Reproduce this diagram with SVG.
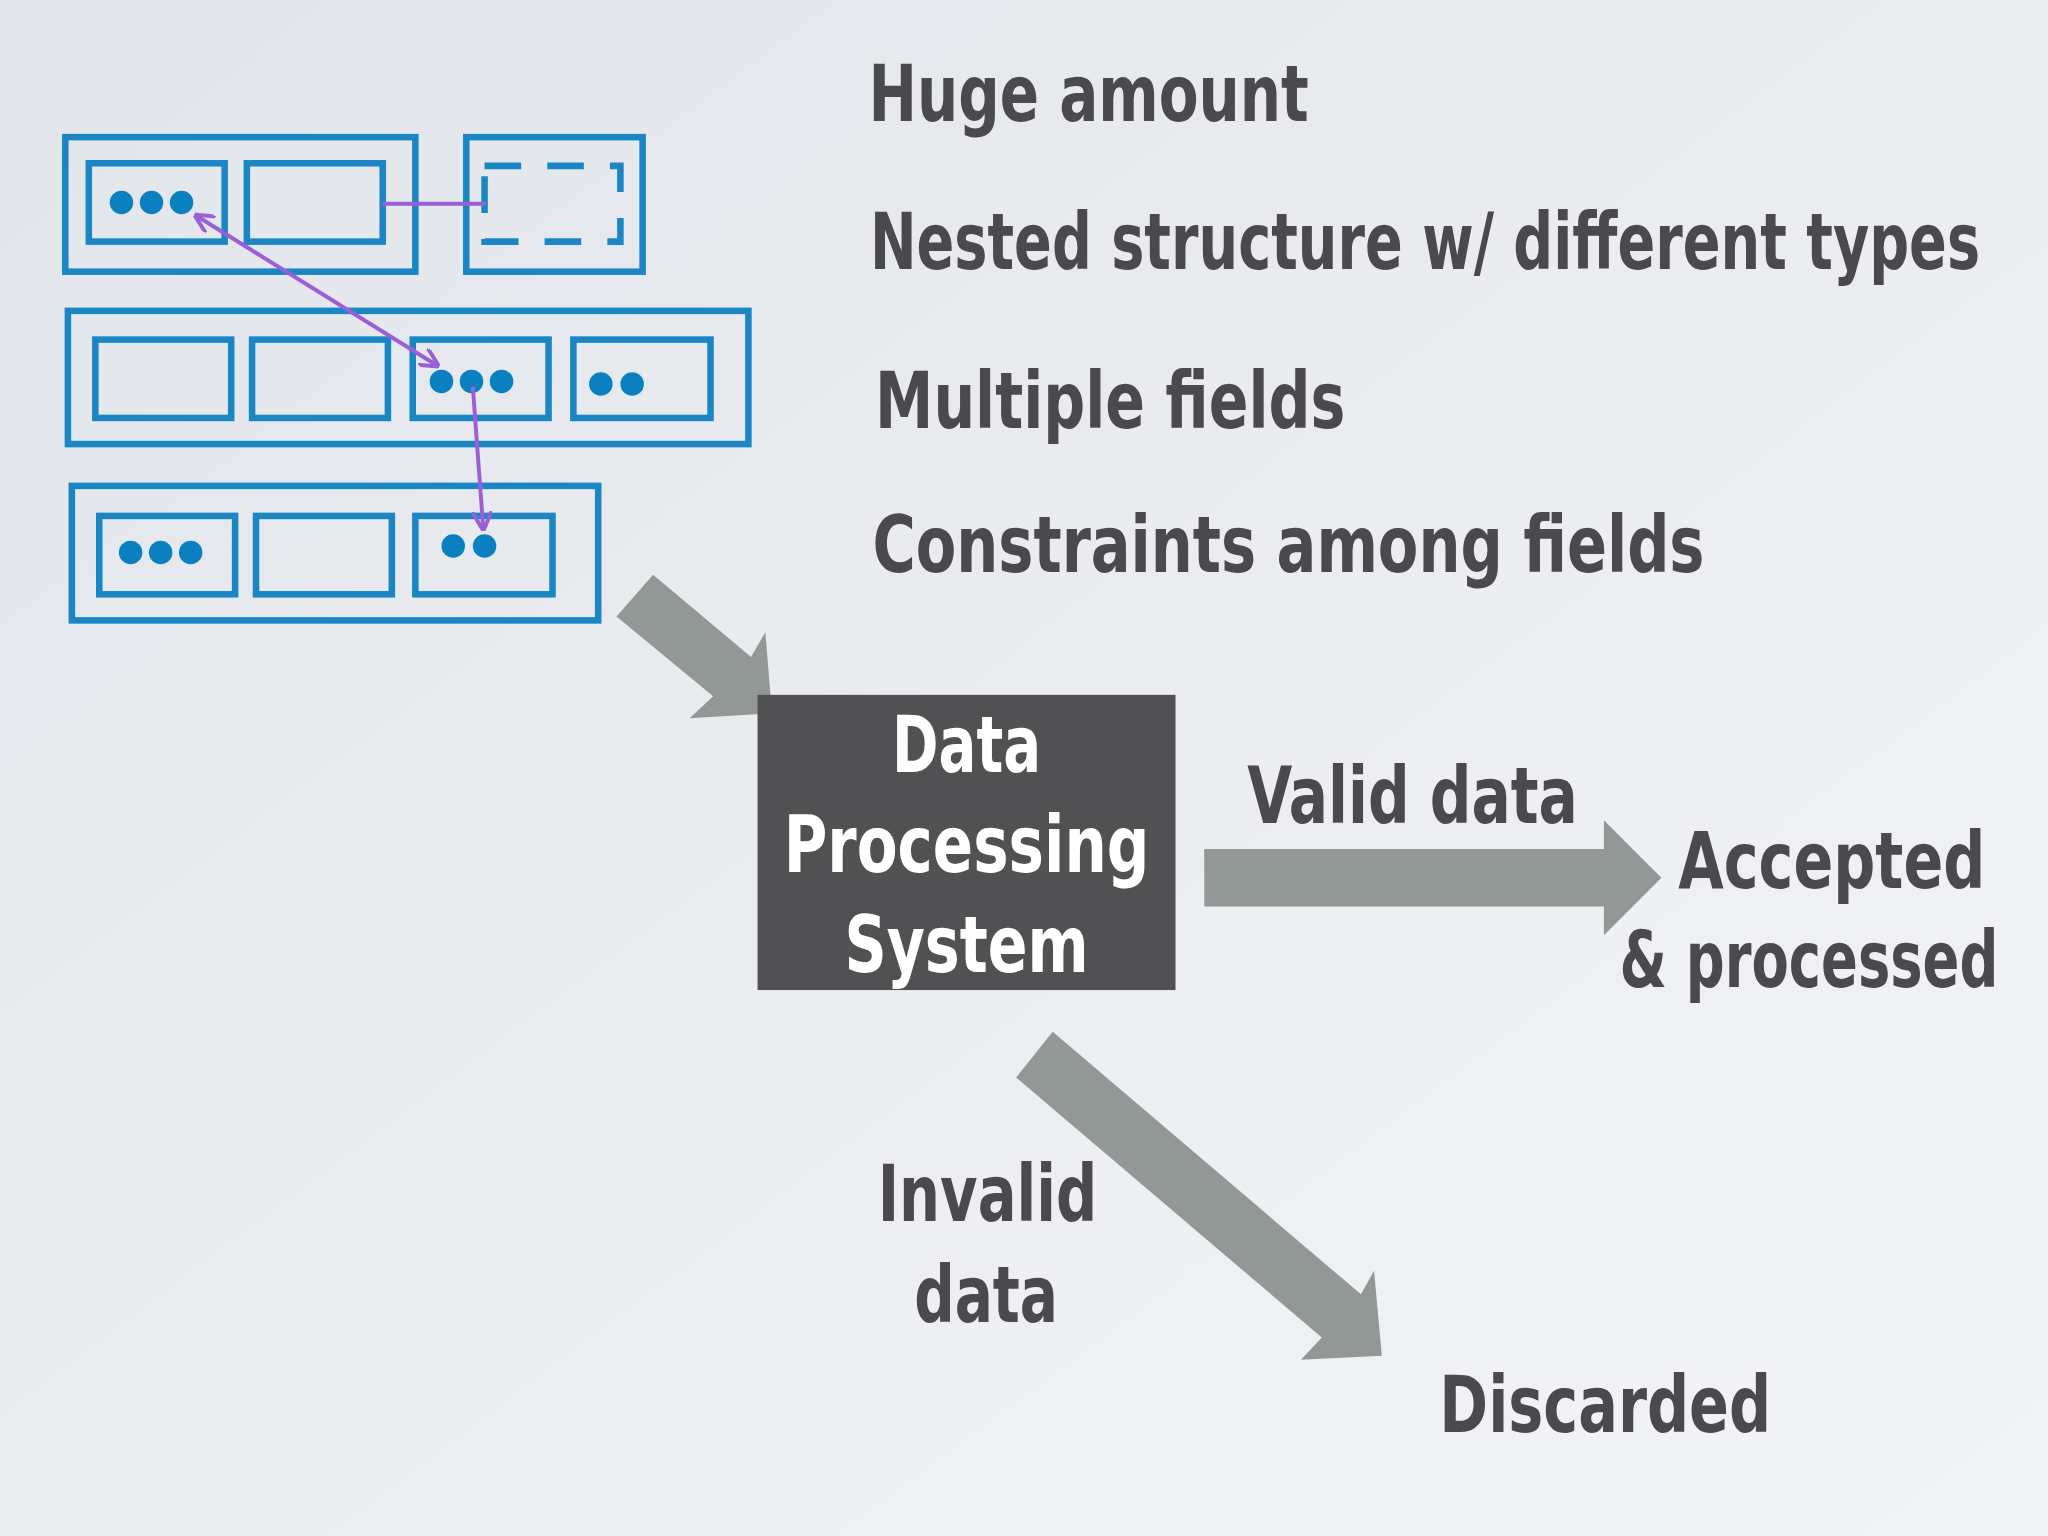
<svg xmlns="http://www.w3.org/2000/svg" width="2048" height="1536" viewBox="0 0 2048 1536">
<defs>
<linearGradient id="bg" x1="0" y1="0" x2="1" y2="1"><stop offset="0" stop-color="#e2e5ea"/><stop offset="1" stop-color="#f3f4f6"/></linearGradient>
<marker id="pa" viewBox="0 0 10 10" refX="9" refY="5" markerWidth="5" markerHeight="5" orient="auto-start-reverse"><path d="M0,0 L10,5 L0,10" fill="none" stroke="#9a5fd6" stroke-width="2"/></marker>
<style>
.b{fill:none;stroke:#1a87c4;stroke-width:5}
.d{fill:#0a80c0}
.p{stroke:#9a5fd6;stroke-width:3;fill:none}
.t{font-family:"DejaVu Sans Condensed","DejaVu Sans",sans-serif;font-weight:bold;font-size:60px;fill:#4a4a4e}
.w{font-family:"DejaVu Sans Condensed","DejaVu Sans",sans-serif;font-weight:bold;font-size:60px;fill:#ffffff}
.g{fill:#929896}
</style>
</defs>
<rect width="2048" height="1536" fill="url(#bg)"/>
<g transform="scale(1.30612)">
<g id="records">
<rect class="b" x="50" y="105" width="268" height="103"/>
<rect class="b" x="68" y="125" width="104" height="60"/>
<rect class="b" x="189" y="125" width="104" height="60"/>
<circle class="d" cx="93" cy="155" r="9"/><circle class="d" cx="116" cy="155" r="9"/><circle class="d" cx="139" cy="155" r="9"/>
<rect class="b" x="357" y="105" width="135" height="103"/>
<rect class="b" x="371" y="127" width="104" height="58" stroke-dasharray="28,20"/>
<rect class="b" x="52" y="238" width="521" height="102"/>
<rect class="b" x="73" y="260" width="104" height="60"/>
<rect class="b" x="193" y="260" width="104" height="60"/>
<rect class="b" x="316" y="260" width="104" height="60"/>
<rect class="b" x="439" y="260" width="105" height="60"/>
<circle class="d" cx="338" cy="292" r="9"/><circle class="d" cx="361" cy="292" r="9"/><circle class="d" cx="384" cy="292" r="9"/>
<circle class="d" cx="460" cy="294" r="9"/><circle class="d" cx="484" cy="294" r="9"/>
<rect class="b" x="55" y="372" width="403" height="103"/>
<rect class="b" x="76" y="395" width="104" height="60"/>
<rect class="b" x="196" y="395" width="104" height="60"/>
<rect class="b" x="318" y="395" width="105" height="60"/>
<circle class="d" cx="100" cy="423" r="9"/><circle class="d" cx="123" cy="423" r="9"/><circle class="d" cx="146" cy="423" r="9"/>
<circle class="d" cx="347" cy="418" r="9"/><circle class="d" cx="371" cy="418" r="9"/>
</g>
<g id="connectors">
<line class="p" x1="293" y1="156" x2="372" y2="156"/>
<line class="p" x1="150" y1="165" x2="335" y2="280" marker-start="url(#pa)" marker-end="url(#pa)"/>
<line class="p" x1="362" y1="296" x2="370" y2="405" marker-end="url(#pa)"/>
<polygon class="g" points="500,440 575,503 586,484 591,546 528,550 546,533 472,472"/>
<polygon class="g" points="922,650 1228,650 1228,628 1272,672 1228,716 1228,694 922,694"/>
<polygon class="g" points="806,790 1042,991 1052,973 1058,1038 996,1041 1012,1024 778,825"/>
</g>
<g id="system">
<rect x="580" y="532" width="320" height="226" fill="#515153"/>
<text class="w" x="740" y="591" text-anchor="middle" textLength="114" lengthAdjust="spacingAndGlyphs">Data</text>
<text class="w" x="740" y="668" text-anchor="middle" textLength="280" lengthAdjust="spacingAndGlyphs">Processing</text>
<text class="w" x="740" y="744" text-anchor="middle" textLength="187" lengthAdjust="spacingAndGlyphs">System</text>
</g>
<g id="labels">
<text class="t" x="665" y="93" textLength="337" lengthAdjust="spacingAndGlyphs">Huge amount</text>
<text class="t" x="666" y="206" textLength="850" lengthAdjust="spacingAndGlyphs">Nested structure w/ different types</text>
<text class="t" x="670" y="328" textLength="360" lengthAdjust="spacingAndGlyphs">Multiple fields</text>
<text class="t" x="668" y="438" textLength="637" lengthAdjust="spacingAndGlyphs">Constraints among fields</text>
<text class="t" x="955" y="630" textLength="253" lengthAdjust="spacingAndGlyphs">Valid data</text>
<text class="t" x="1285" y="680" textLength="235" lengthAdjust="spacingAndGlyphs">Accepted</text>
<text class="t" x="1240" y="756" textLength="290" lengthAdjust="spacingAndGlyphs">&amp; processed</text>
<text class="t" x="672" y="935" textLength="168" lengthAdjust="spacingAndGlyphs">Invalid</text>
<text class="t" x="700" y="1012" textLength="110" lengthAdjust="spacingAndGlyphs">data</text>
<text class="t" x="1102" y="1096" textLength="254" lengthAdjust="spacingAndGlyphs">Discarded</text>
</g>
</g>
</svg>
